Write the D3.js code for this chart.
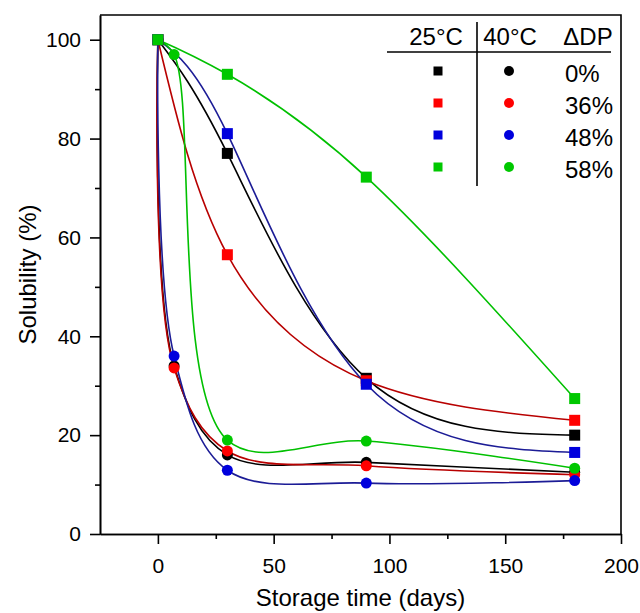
<!DOCTYPE html>
<html>
<head>
<meta charset="utf-8">
<script src="https://cdn.jsdelivr.net/npm/d3@7"></script>
<style>
  body { margin: 0; background: #fff; }
  svg { display: block; font-family: "Liberation Sans", Arial, sans-serif; }
  .axis path, .axis line { stroke: #000; stroke-width: 1.6; }
  .axis text { font-size: 21px; fill: #000; }
</style>
</head>
<body>
<svg id="chart" width="640" height="613"></svg>
<script>
// storage time (days) for each measured point
const days25 = [0, 30, 90, 180];
const days40 = [0, 7, 30, 90, 180];

// solubility (%) at 25 C (squares)
const sol25_0 = [100, 77, 31.5, 20];
const sol25_36 = [100, 56.5, 31, 23];
const sol25_48 = [100, 81, 30.3, 16.5];
const sol25_58 = [100, 93, 72.2, 27.4];

// solubility (%) at 40 C (circles)
const sol40_0 = [100, 34, 16, 14.5, 12.5];
const sol40_36 = [100, 33.6, 16.8, 13.8, 12];
const sol40_48 = [100, 36, 12.9, 10.3, 10.8];
const sol40_58 = [100, 97, 19, 18.8, 13.3];

const dpLabels = ["0%", "36%", "48%", "58%"];
const xTicks = [0, 50, 100, 150, 200];
const yTicks = [0, 20, 40, 60, 80, 100];

function whenDocumentLoaded(action) {
  if (document.readyState === "loading") {
    document.addEventListener("DOMContentLoaded", action);
  } else {
    action();
  }
}

whenDocumentLoaded(() => {
  const svg = d3.select('#chart');
  const left = 100, right = 621, top = 15, bottom = 534;

  const x = d3.scaleLinear().domain([-25, 200]).range([left, right]);
  const y = d3.scaleLinear().domain([0, 105]).range([bottom, top]);

  // colours: line colour and marker colour per ΔDP
  const lineCol = ["#000000", "#b80000", "#1c1c96", "#00c000"];
  const markCol = ["#000000", "#ff0000", "#0000dd", "#00c800"];

  const set25 = [sol25_0, sol25_36, sol25_48, sol25_58];
  const set40 = [sol40_0, sol40_36, sol40_48, sol40_58];

  // frame
  svg.append('path')
     .attr('d', `M${left},${top}H${right}V${bottom}`)
     .attr('fill', 'none')
     .attr('stroke', '#000')
     .attr('stroke-width', 1.6);

  // axes (major + minor ticks)
  svg.append('g').attr('class', 'axis')
     .attr('transform', `translate(0,${bottom})`)
     .call(d3.axisBottom(x).tickValues(xTicks).tickSize(10).tickPadding(14).tickSizeOuter(0));
  svg.append('g').attr('class', 'axis')
     .attr('transform', `translate(0,${bottom})`)
     .call(d3.axisBottom(x).tickValues([25, 75, 125, 175]).tickSize(5).tickFormat('').tickSizeOuter(0));

  svg.append('g').attr('class', 'axis')
     .attr('transform', `translate(${left},0)`)
     .call(d3.axisLeft(y).tickValues(yTicks).tickSize(10).tickPadding(9).tickSizeOuter(0));
  svg.append('g').attr('class', 'axis')
     .attr('transform', `translate(${left},0)`)
     .call(d3.axisLeft(y).tickValues([10, 30, 50, 70, 90]).tickSize(5).tickFormat('').tickSizeOuter(0));

  // axis titles
  svg.append('text')
     .text('Storage time (days)')
     .attr('x', (left + right) / 2)
     .attr('y', 606)
     .attr('text-anchor', 'middle')
     .style('font-size', '24px');
  svg.append('text')
     .text('Solubility (%)')
     .attr('transform', `translate(36,${(top + bottom) / 2}) rotate(-90)`)
     .attr('text-anchor', 'middle')
     .style('font-size', '24px');

  const line25 = d3.line()
                   .x(d => x(d[0]))
                   .y(d => y(d[1]))
                   .curve(d3.curveNatural);
  const line40 = d3.line()
                   .x(d => x(d[0]))
                   .y(d => y(d[1]))
                   .curve(d3.curveCatmullRom.alpha(0.5));

  // lines
  set25.forEach((vals, i) => {
    svg.append('path')
       .datum(days25.map((t, k) => [t, vals[k]]))
       .attr('d', line25)
       .attr('fill', 'none')
       .attr('stroke', lineCol[i])
       .attr('stroke-width', 1.6);
  });
  set40.forEach((vals, i) => {
    svg.append('path')
       .datum(days40.map((t, k) => [t, vals[k]]))
       .attr('d', line40)
       .attr('fill', 'none')
       .attr('stroke', lineCol[i])
       .attr('stroke-width', 1.6);
  });

  // markers
  set40.forEach((vals, i) => {
    svg.selectAll(null)
       .data(days40.map((t, k) => [t, vals[k]]))
       .enter()
       .append('circle')
       .attr('cx', d => x(d[0]))
       .attr('cy', d => y(d[1]))
       .attr('r', 5.5)
       .attr('fill', markCol[i]);
  });
  set25.forEach((vals, i) => {
    svg.selectAll(null)
       .data(days25.map((t, k) => [t, vals[k]]))
       .enter()
       .append('rect')
       .attr('x', d => x(d[0]) - 5.5)
       .attr('y', d => y(d[1]) - 5.5)
       .attr('width', 11)
       .attr('height', 11)
       .attr('fill', markCol[i]);
  });

  // legend table
  const leg = svg.append('g').style('font-size', '24px');
  leg.append('line').attr('x1', 387).attr('x2', 611).attr('y1', 52).attr('y2', 52)
     .attr('stroke', '#000').attr('stroke-width', 1.6);
  leg.append('line').attr('x1', 477).attr('x2', 477).attr('y1', 22).attr('y2', 186)
     .attr('stroke', '#000').attr('stroke-width', 1.6);
  [["25°C", 436], ["40°C", 510], ["ΔDP", 588]].forEach(h => {
    leg.append('text').text(h[0]).attr('x', h[1]).attr('y', 45).attr('text-anchor', 'middle');
  });
  const rowY = d3.scaleLinear().domain([0, 3]).range([71, 167]);
  dpLabels.forEach((lab, i) => {
    leg.append('rect')
       .attr('x', 438 - 4.5).attr('y', rowY(i) - 4.5)
       .attr('width', 9).attr('height', 9)
       .attr('fill', markCol[i]);
    leg.append('circle')
       .attr('cx', 509).attr('cy', rowY(i))
       .attr('r', 5)
       .attr('fill', markCol[i]);
    leg.append('text').text(lab).attr('x', 565).attr('y', rowY(i) + 11);
  });
});
</script>
</body>
</html>
